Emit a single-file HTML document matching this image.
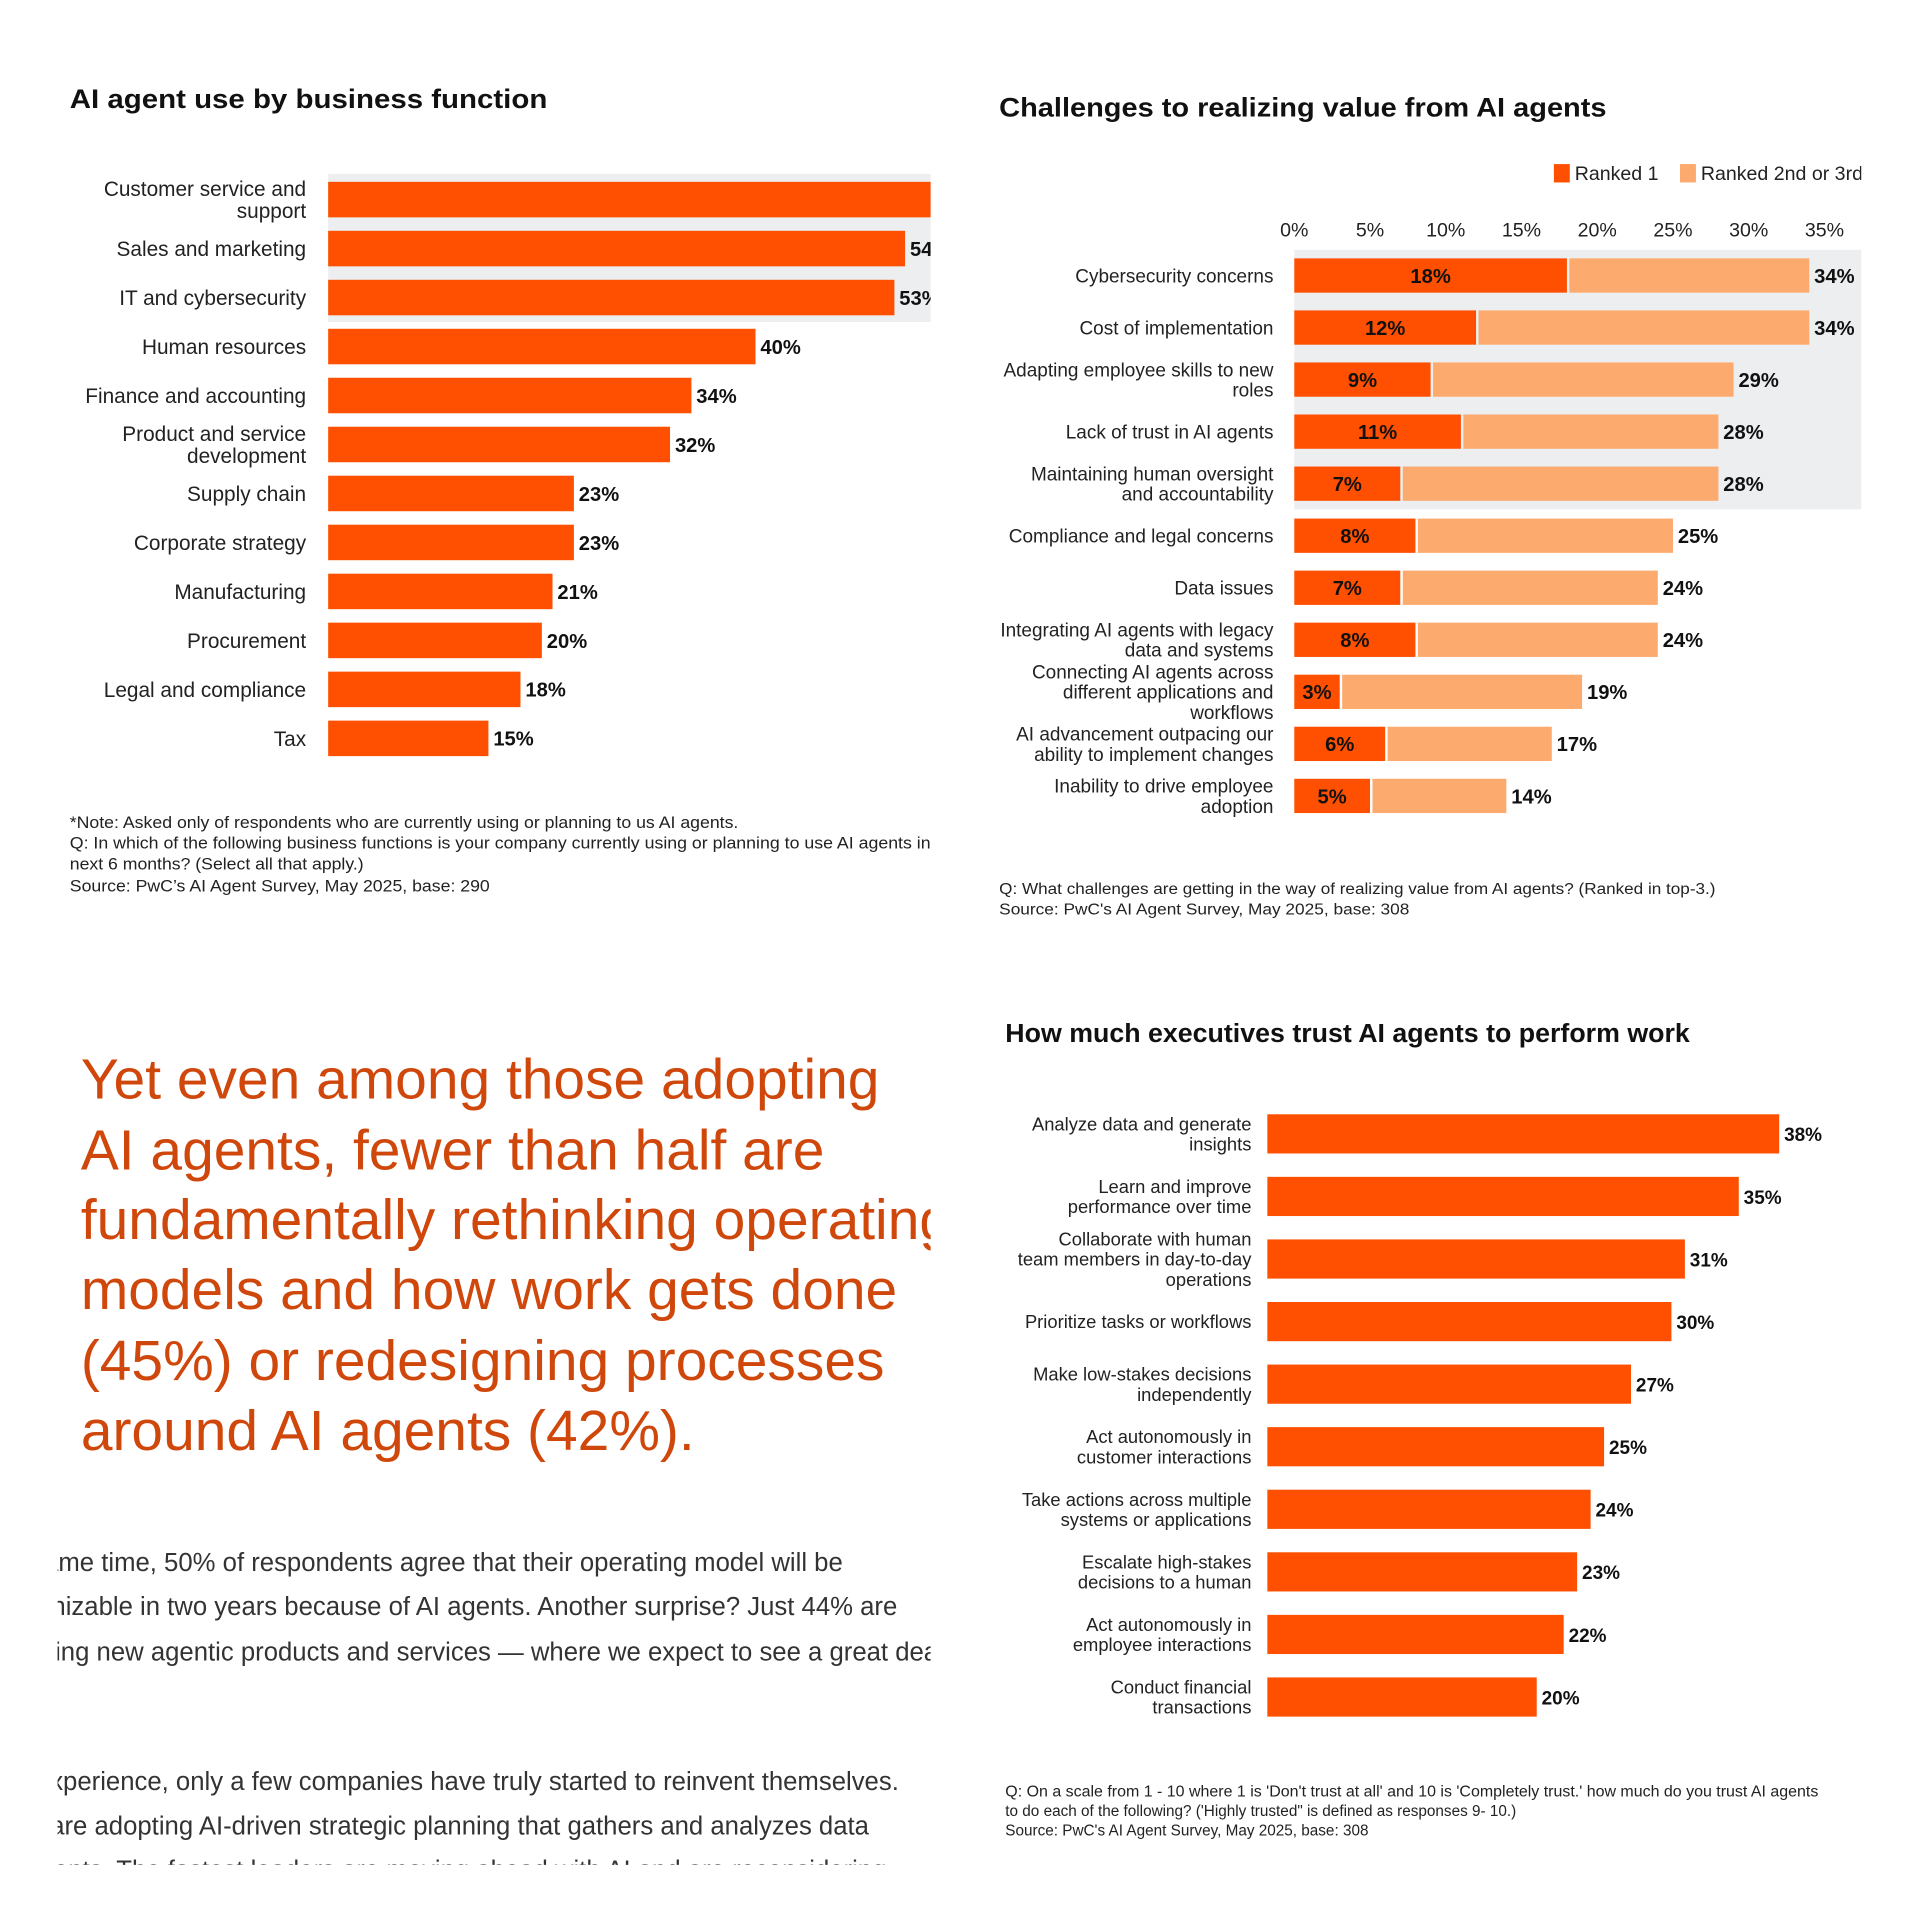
<!DOCTYPE html>
<html><head><meta charset="utf-8"><style>
html,body{margin:0;padding:0;background:#fff;}
svg{display:block;font-family:"Liberation Sans",Arial,sans-serif;}
</style></head><body>
<svg id="root" width="1920" height="1920" viewBox="0 0 1568 1568" xmlns="http://www.w3.org/2000/svg">
<defs>
<clipPath id="cl"><rect x="0" y="0" width="760" height="800"/></clipPath>
<clipPath id="cr"><rect x="780" y="0" width="740" height="800"/></clipPath>
<clipPath id="cb"><rect x="47" y="820" width="713" height="703"/></clipPath>
</defs>
<g id="c1" clip-path="url(#cl)">
<text x="57" y="88" font-size="22" font-weight="bold" fill="#111" textLength="390" lengthAdjust="spacingAndGlyphs">AI agent use by business function</text>
<rect x="268" y="142" width="500" height="121" fill="#eceef0"/>
</g>
<g font-size="13.5" fill="#222">
<text x="57" y="676" textLength="546" lengthAdjust="spacingAndGlyphs">*Note: Asked only of respondents who are currently using or planning to us AI agents.</text>
<text x="57" y="693" textLength="703" lengthAdjust="spacingAndGlyphs">Q: In which of the following business functions is your company currently using or planning to use AI agents in</text>
<text x="57" y="710" textLength="240" lengthAdjust="spacingAndGlyphs">next 6 months? (Select all that apply.)</text>
<text x="57" y="728" textLength="343" lengthAdjust="spacingAndGlyphs">Source: PwC’s AI Agent Survey, May 2025, base: 290</text>
</g>
<g id="c2" clip-path="url(#cr)">
<text x="816" y="95" font-size="22" font-weight="bold" fill="#111" textLength="496" lengthAdjust="spacingAndGlyphs">Challenges to realizing value from AI agents</text>
<rect x="1269" y="134" width="13" height="15" fill="#fe5000"/>
<text x="1286" y="147" font-size="16" fill="#222">Ranked 1</text>
<rect x="1372" y="134" width="13" height="15" fill="#fdaa6e"/>
<text x="1389" y="147" font-size="16" fill="#222">Ranked 2nd or 3rd</text>
<rect x="1057" y="204" width="470" height="212" fill="#eceef0"/>
</g>
<g font-size="13" fill="#222">
<text x="816" y="730" textLength="585" lengthAdjust="spacingAndGlyphs">Q: What challenges are getting in the way of realizing value from AI agents? (Ranked in top-3.)</text>
<text x="816" y="747" textLength="335" lengthAdjust="spacingAndGlyphs">Source: PwC's AI Agent Survey, May 2025, base: 308</text>
</g>
<g clip-path="url(#cb)">
<g font-size="46.5" fill="#d0470c">
<text x="66" y="897">Yet even among those adopting</text>
<text x="66" y="955">AI agents, fewer than half are</text>
<text x="66" y="1012">fundamentally rethinking operating</text>
<text x="66" y="1069">models and how work gets done</text>
<text x="66" y="1127">(45%) or redesigning processes</text>
<text x="66" y="1184">around AI agents (42%).</text>
</g>
<g font-size="21" fill="#333">
<text x="36" y="1283">ame time, 50% of respondents agree that their operating model will be</text>
<text x="42" y="1319">nizable in two years because of AI agents. Another surprise? Just 44% are</text>
<text x="45" y="1356">ing new agentic products and services — where we expect to see a great deal</text>
<text x="41" y="1462">xperience, only a few companies have truly started to reinvent themselves.</text>
<text x="41" y="1498">are adopting AI-driven strategic planning that gathers and analyzes data</text>
<text x="44" y="1534">ents. The fastest leaders are moving ahead with AI and are reconsidering</text>
</g>
</g>
<g id="c3">
<text x="821" y="851" font-size="21" font-weight="bold" fill="#111" textLength="559" lengthAdjust="spacingAndGlyphs">How much executives trust AI agents to perform work</text>
</g>
<g font-size="12.5" fill="#222">
<text x="821" y="1467" textLength="664" lengthAdjust="spacingAndGlyphs">Q: On a scale from 1 - 10 where 1 is 'Don't trust at all' and 10 is 'Completely trust.' how much do you trust AI agents</text>
<text x="821" y="1483">to do each of the following? ('Highly trusted" is defined as responses 9- 10.)</text>
<text x="821" y="1499">Source: PwC's AI Agent Survey, May 2025, base: 308</text>
</g>
</svg>
<script>
const c1Labels=[["Customer service and","support"],["Sales and marketing"],["IT and cybersecurity"],["Human resources"],["Finance and accounting"],["Product and service","development"],["Supply chain"],["Corporate strategy"],["Manufacturing"],["Procurement"],["Legal and compliance"],["Tax"]];
const c1Values=[58,54,53,40,34,32,23,23,21,20,18,15];
const c2Labels=[["Cybersecurity concerns"],["Cost of implementation"],["Adapting employee skills to new","roles"],["Lack of trust in AI agents"],["Maintaining human oversight","and accountability"],["Compliance and legal concerns"],["Data issues"],["Integrating AI agents with legacy","data and systems"],["Connecting AI agents across","different applications and","workflows"],["AI advancement outpacing our","ability to implement changes"],["Inability to drive employee","adoption"]];
const c2Ranked1=[18,12,9,11,7,8,7,8,3,6,5];
const c2Total=[34,34,29,28,28,25,24,24,19,17,14];
const c2Ticks=[0,5,10,15,20,25,30,35];
const c3Labels=[["Analyze data and generate","insights"],["Learn and improve","performance over time"],["Collaborate with human","team members in day-to-day","operations"],["Prioritize tasks or workflows"],["Make low-stakes decisions","independently"],["Act autonomously in","customer interactions"],["Take actions across multiple","systems or applications"],["Escalate high-stakes","decisions to a human"],["Act autonomously in","employee interactions"],["Conduct financial","transactions"]];
const c3Values=[38,35,31,30,27,25,24,23,22,20];

const NS="http://www.w3.org/2000/svg";
function mk(tag,attrs,parent,txt){const e=document.createElementNS(NS,tag);for(const k in attrs)e.setAttribute(k,attrs[k]);if(txt!==undefined)e.textContent=txt;parent.appendChild(e);return e;}
function labelLines(g,lines,x,cy,lh,fs){const n=lines.length;lines.forEach((l,i)=>{const t=mk('text',{x:x,y:cy+(i-(n-1)/2)*lh+fs*0.36,'font-size':fs,'text-anchor':'end',fill:'#222'},g,l);

});}

// Chart 1
const g1=document.getElementById('c1');
const x1=v=>268+v*8.725, y1=i=>163+i*40;
c1Values.forEach((v,i)=>{
 labelLines(g1,c1Labels[i],250,y1(i),18,17);
 const r=mk('rect',{x:268,y:y1(i)-14.5,width:x1(v)-268,height:29,fill:'#fe5000'},g1);
 
 
 const t=mk('text',{x:x1(v)+4,y:y1(i)+6,'font-size':16.5,'font-weight':'bold',fill:'#111'},g1,v+'%');
 
 
});

// Chart 2
const g2=document.getElementById('c2');
const x2=v=>1057+v*12.37, y2=i=>225+i*42.5;
c2Ticks.forEach(v=>{
 const t=mk('text',{x:x2(v),y:193,'font-size':16,'text-anchor':'middle',fill:'#222'},g2,v+'%');
 
 
});
c2Total.forEach((tot,i)=>{
 labelLines(g2,c2Labels[i],1040,y2(i),16.5,15.5);
 const a=mk('rect',{x:1057,y:y2(i)-14,width:x2(c2Ranked1[i])-1057,height:28,fill:'#fe5000'},g2);
 
 
 const b=mk('rect',{x:x2(c2Ranked1[i])+2,y:y2(i)-14,width:x2(tot)-x2(c2Ranked1[i])-2,height:28,fill:'#fdaa6e'},g2);
 
 
 const t=mk('text',{x:(1057+x2(c2Ranked1[i]))/2,y:y2(i)+6,'font-size':16.5,'font-weight':'bold','text-anchor':'middle',fill:'#111'},g2,c2Ranked1[i]+'%');
 
 
 const t2=mk('text',{x:x2(tot)+4,y:y2(i)+6,'font-size':16.5,'font-weight':'bold',fill:'#111'},g2,tot+'%');
 
 
});

// Chart 3
const g3=document.getElementById('c3');
const x3=v=>1035+v*11, y3=i=>926+i*51.1;
c3Values.forEach((v,i)=>{
 labelLines(g3,c3Labels[i],1022,y3(i),16.5,15);
 const r=mk('rect',{x:1035,y:y3(i)-16,width:x3(v)-1035,height:32,fill:'#fe5000'},g3);
 
 
 const t=mk('text',{x:x3(v)+4,y:y3(i)+6,'font-size':15.5,'font-weight':'bold',fill:'#111'},g3,v+'%');
 
 
});
</script>
</body></html>
